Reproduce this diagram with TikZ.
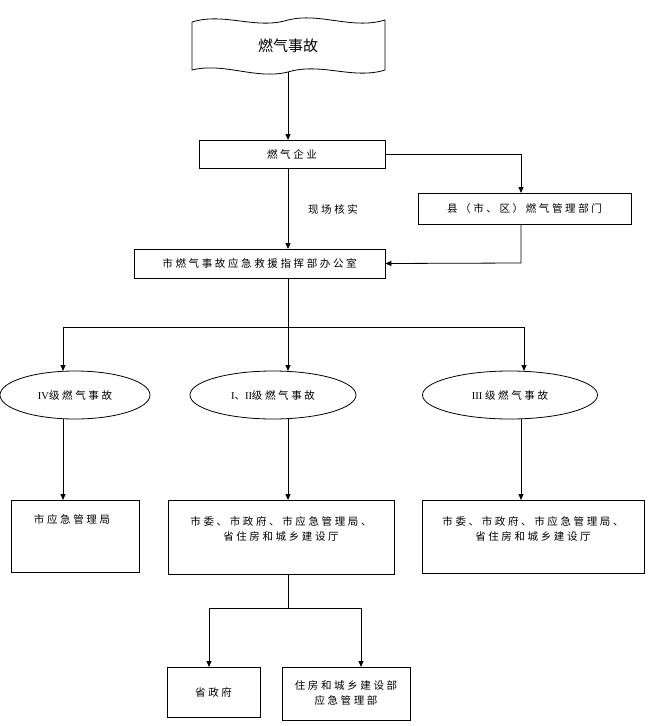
\documentclass[tikz,border=0pt]{standalone}
\usepackage{fontspec}
\setmainfont{Liberation Serif}
\newfontfamily\cjk[LetterSpace=25]{Noto Sans CJK SC}
\newfontfamily\cjkbig{Noto Sans CJK SC}
\usetikzlibrary{arrows.meta,shapes.geometric}
\begin{document}
\begin{tikzpicture}[x=1pt,y=-1pt,
  box/.style={draw,thick,inner sep=0pt,font=\cjk\fontsize{10.5}{15}\selectfont,align=center},
  tx/.style={font=\cjk\fontsize{10.5}{15}\selectfont,align=center},
  arr/.style={thick,-{Triangle[length=6pt,width=5pt]}},
  ln/.style={thick}]
\useasboundingbox (0,0) rectangle (648,726);
% banner
\draw[thick] (192,22) .. controls (224,12) and (256,30) .. (288,20) .. controls (320,12) and (352,30) .. (385,20)
  -- (385,70) .. controls (353,80) and (321,62) .. (288,72) .. controls (256,80) and (224,62) .. (192,70) -- cycle;
\node[font=\cjkbig\fontsize{15}{17}\selectfont] (top) at (288,46) {燃气事故};
\coordinate (topb) at (288,72);
\node[box,minimum width=186,minimum height=28] (qy) at (292,154) {燃气企业};
\node[box,minimum width=213,minimum height=31] (xian) at (524.5,208.5) {县（市、区）燃气管理部门};
\node[box,minimum width=251,minimum height=29] (zh) at (259.5,263.5) {市燃气事故应急救援指挥部办公室};
\node[tx] (hs) at (333,209) {现场核实};
\draw[arr] (topb) -- (288,140);
\draw[arr] (288,168) -- (288,249);
\draw[arr] (qy.east) -- (521,154) -- (521,193);
\draw[arr] (521,224) -- (521,263) -- (zh.east);
\draw[ln] (288,278) -- (288,327);
\draw[ln] (63,327) -- (524,327);
\node[draw,thick,ellipse,minimum width=150,minimum height=48] (e1) at (75,395) {};
\node[tx] at (e1) {\rmfamily IV{\cjk 级燃气事故}};
\node[draw,thick,ellipse,minimum width=166,minimum height=48] (e2) at (273,395) {};
\node[tx] at (e2) {\rmfamily I{\cjk 、}II{\cjk 级燃气事故}};
\node[draw,thick,ellipse,minimum width=175,minimum height=48] (e3) at (510,395) {};
\node[tx] at (e3) {\rmfamily III {\cjk 级燃气事故}};
\draw[arr] (63,327) -- (63,371);
\draw[arr] (288,327) -- (288,371);
\draw[arr] (524,327) -- (524,371);
\draw[arr] (63,419) -- (63,500);
\draw[arr] (288,419) -- (288,500);
\draw[arr] (521,419) -- (521,500);
\draw[thick] (11,500) rectangle (139,572);
\node[tx] (b1) at (72,519) {市应急管理局};
\draw[thick] (168,500) rectangle (394,574);
\node[tx] (b2) at (281,529) {市委、市政府、市应急管理局、\\省住房和城乡建设厅};
\draw[thick] (422,500) rectangle (644,573);
\node[tx] (b3) at (533,529) {市委、市政府、市应急管理局、\\省住房和城乡建设厅};
\draw[ln] (288,574) -- (288,608);
\draw[ln] (209,608) -- (361,608);
\draw[arr] (209,608) -- (209,667);
\draw[arr] (361,608) -- (361,667);
\node[box,minimum width=93,minimum height=50] (sz) at (213.5,692) {省政府};
\node[box,minimum width=128,minimum height=53] (zf) at (346,693.5) {住房和城乡建设部\\应急管理部};
\end{tikzpicture}
\end{document}
